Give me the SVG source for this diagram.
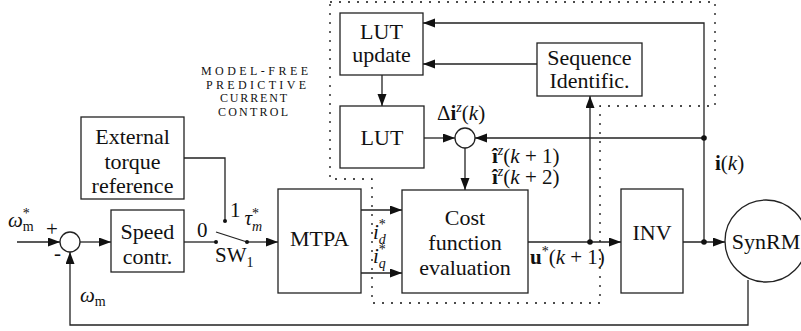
<svg xmlns="http://www.w3.org/2000/svg" width="801" height="331" viewBox="0 0 801 331">
<style>
.bx{fill:#fff;stroke:#222;stroke-width:1.3}
.t{font-size:22px;fill:#111;text-anchor:middle}
.m{font-size:21px;fill:#111}
.i{font-style:italic}
.s{font-size:14px}
.sc{font-size:12px;fill:#111}
.w{fill:none;stroke:#222;stroke-width:1.3}
.a{marker-end:url(#ah)}
.d{fill:#111}
.dot{fill:none;stroke:#111;stroke-width:1.3;stroke-dasharray:2 7}
</style>
<defs>
<marker id="ah" markerUnits="userSpaceOnUse" markerWidth="13" markerHeight="10" refX="12" refY="4.5" orient="auto">
<path d="M0,0 L12,4.5 L0,9 z" fill="#111"/>
</marker>
</defs>
<path class="dot" d="M330,2 H715 V106 H600 V303 H372 V179 H330 Z"/>
<g font-family="'Liberation Serif', 'DejaVu Serif', serif">
<text class="sc" x="201" y="75" textLength="107" lengthAdjust="spacing">MODEL-FREE</text>
<text class="sc" x="206" y="89" textLength="100" lengthAdjust="spacing">PREDICTIVE</text>
<text class="sc" x="220" y="102" textLength="67" lengthAdjust="spacing">CURRENT</text>
<text class="sc" x="218" y="116" textLength="70" lengthAdjust="spacing">CONTROL</text>
</g>
<g id="connectors">
<path class="w a" d="M17,242 H60"/>
<path class="w a" d="M80,242 H111"/>
<path class="w" d="M184,242 H216"/>
<path class="w" d="M216,232 L247,242"/>
<path class="w a" d="M247,242 H278"/>
<path class="w" d="M184,158 H225 V221"/>
<path class="w a" d="M361,210 H402"/>
<path class="w a" d="M361,273 H402"/>
<path class="w a" d="M382,75 V106"/>
<path class="w a" d="M424,138 H455"/>
<path class="w a" d="M465,148 V190"/>
<path class="w a" d="M704,138 H475"/>
<path class="w a" d="M704,242 V23 H423"/>
<path class="w a" d="M537,64 H423"/>
<path class="w a" d="M528,242 H621"/>
<path class="w a" d="M590,242 V96"/>
<path class="w a" d="M683,242 H725"/>
<path class="w a" d="M748,280 V325 H70 V252"/>
<circle class="d" cx="216" cy="242" r="2"/>
<circle class="d" cx="247" cy="242" r="2"/>
<circle class="d" cx="225" cy="221" r="2"/>
<circle class="d" cx="590" cy="242" r="2.8"/>
<circle class="d" cx="704" cy="242" r="2.8"/>
<circle class="d" cx="704" cy="138" r="2.8"/>
</g>
<g font-family="'Liberation Serif', 'DejaVu Serif', serif">
<g id="sum1"><circle class="bx" cx="70" cy="242" r="10"/></g>
<g id="sum2"><circle class="bx" cx="465" cy="138" r="10"/></g>
<g id="ext"><rect class="bx" x="81" y="117" width="103" height="82"/>
<text class="t" x="132.5" y="144">External</text><text class="t" x="132.5" y="169">torque</text><text class="t" x="132.5" y="193">reference</text></g>
<g id="speed"><rect class="bx" x="111" y="210" width="73" height="62"/>
<text class="t" x="147.5" y="239">Speed</text><text class="t" x="147.5" y="264">contr.</text></g>
<g id="mtpa"><rect class="bx" x="278" y="189" width="83" height="104"/>
<text class="t" x="319.5" y="246">MTPA</text></g>
<g id="lutupd"><rect class="bx" x="340" y="13" width="83" height="62"/>
<text class="t" x="381.5" y="39">LUT</text><text class="t" x="381.5" y="62">update</text></g>
<g id="lut"><rect class="bx" x="340" y="106" width="84" height="62"/>
<text class="t" x="382" y="145">LUT</text></g>
<g id="seq"><rect class="bx" x="537" y="43" width="105" height="53"/>
<text class="t" x="589.5" y="65">Sequence</text><text class="t" x="589.5" y="88">Identific.</text></g>
<g id="cost"><rect class="bx" x="402" y="190" width="126" height="103"/>
<text class="t" x="465" y="225">Cost</text><text class="t" x="465" y="250">function</text><text class="t" x="465" y="275">evaluation</text></g>
<g id="inv"><rect class="bx" x="621" y="189" width="62" height="104"/>
<text class="t" x="652" y="240">INV</text></g>
<g id="synrm"><circle class="bx" cx="766" cy="241" r="41"/>
<text class="t" x="766" y="249">SynRM</text></g>
<g id="labels">
<text class="m" x="8" y="227"><tspan class="i">ω</tspan><tspan class="s" dy="-9">*</tspan><tspan class="s" dx="-7" dy="13">m</tspan></text>
<text class="m" x="46" y="236">+</text>
<text class="m" x="54" y="260">-</text>
<text class="m" x="80" y="302"><tspan class="i">ω</tspan><tspan class="s" dy="4">m</tspan></text>
<text class="m" x="197" y="237">0</text>
<text class="m" x="230" y="217">1<tspan class="i" dx="4" dy="8">τ</tspan><tspan class="s" dy="-7">*</tspan><tspan class="s i" dx="-7" dy="13">m</tspan></text>
<text class="m" x="215" y="262">SW<tspan class="s" dy="5">1</tspan></text>
<text class="m" x="373" y="239"><tspan class="i">i</tspan><tspan class="s" dy="-10">*</tspan><tspan class="s i" dx="-7" dy="15">d</tspan></text>
<text class="m" x="373" y="263"><tspan class="i">i</tspan><tspan class="s" dy="-9">*</tspan><tspan class="s i" dx="-7" dy="14">q</tspan></text>
<text class="m" x="437" y="120">Δ<tspan font-weight="bold">i</tspan><tspan class="s i" dy="-8">z</tspan><tspan dy="8">(</tspan><tspan class="i">k</tspan>)</text>
<text class="m" x="492" y="163"><tspan font-weight="bold">î</tspan><tspan class="s i" dy="-8">z</tspan><tspan dy="8">(</tspan><tspan class="i">k</tspan> + 1)</text>
<text class="m" x="492" y="184"><tspan font-weight="bold">î</tspan><tspan class="s i" dy="-8">z</tspan><tspan dy="8">(</tspan><tspan class="i">k</tspan> + 2)</text>
<text class="m" x="530" y="264"><tspan font-weight="bold">u</tspan><tspan class="s" dy="-8">*</tspan><tspan dy="8">(</tspan><tspan class="i">k</tspan> + 1)</text>
<text class="m" x="715" y="170"><tspan font-weight="bold">i</tspan>(<tspan class="i">k</tspan>)</text>
</g>
</g>
</svg>
